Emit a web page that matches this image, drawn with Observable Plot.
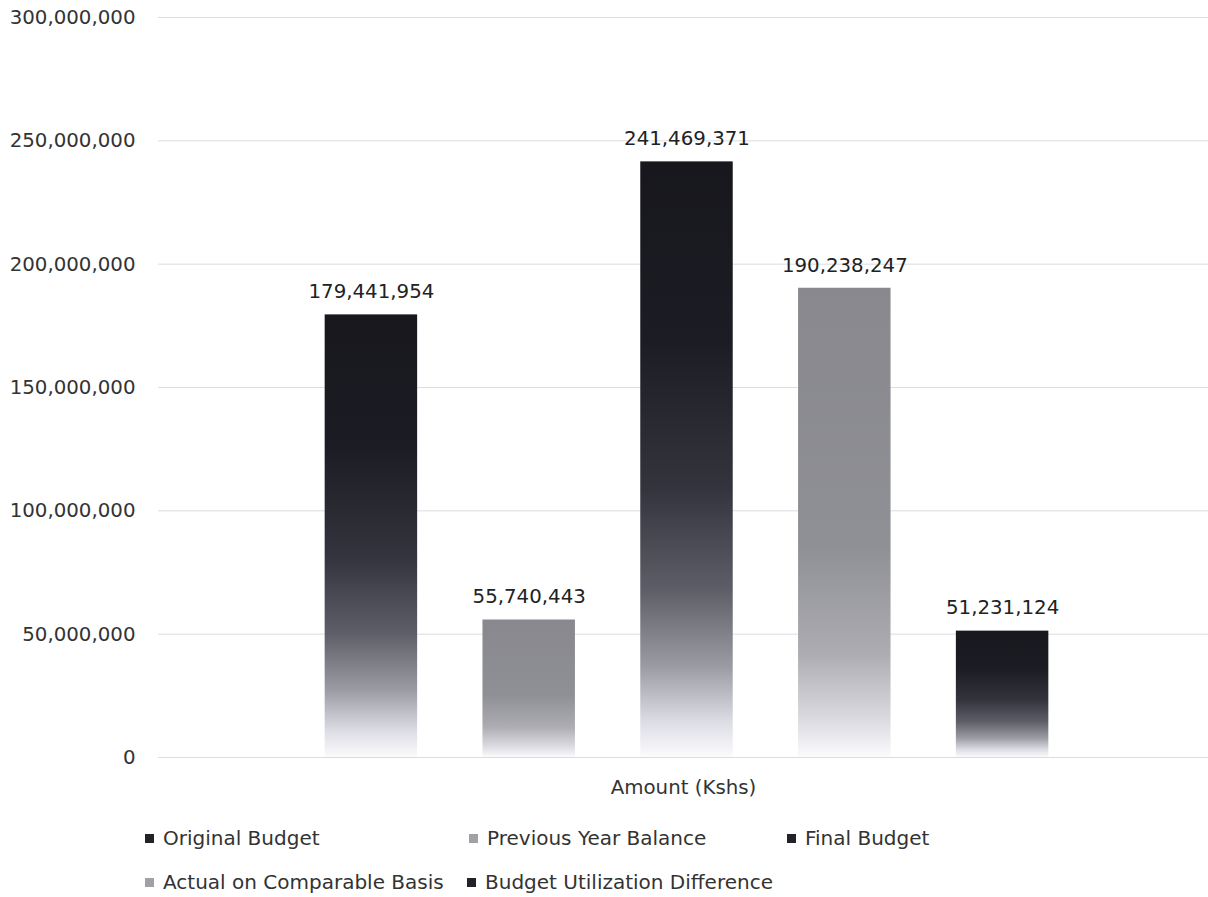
<!DOCTYPE html>
<html>
<head>
<meta charset="utf-8">
<script src="https://cdn.jsdelivr.net/npm/d3@7"></script>
<script src="https://cdn.jsdelivr.net/npm/@observablehq/plot@0.6"></script>
<style>
  body { margin: 0; background: #fff; font-family: "DejaVu Sans", sans-serif; }
  #wrap { position: relative; width: 1208px; height: 897px; }
  .leg { position: absolute; font-size: 20px; color: #333; white-space: nowrap; line-height: 24px; }
  .leg span.sw { display: inline-block; width: 9px; height: 9px; margin-right: 9px; vertical-align: 2px; }
</style>
</head>
<body>
<div id="wrap"></div>
<script>
const series = ["Original Budget", "Previous Year Balance", "Final Budget", "Actual on Comparable Basis", "Budget Utilization Difference"];
const values = [179441954, 55740443, 241469371, 190238247, 51231124];
const tones = ["dark", "gray", "dark", "gray", "dark"];
const yTicks = [0, 50000000, 100000000, 150000000, 200000000, 250000000, 300000000];
const xLabel = "Amount (Kshs)";

const data = series.map((s, i) => ({series: s, value: values[i], tone: tones[i]}));
const fmt = d3.format(",");

const chart = Plot.plot({
  width: 1208,
  height: 800,
  marginLeft: 158,
  marginRight: 0,
  marginTop: 17,
  marginBottom: 43,
  style: {fontFamily: "DejaVu Sans, sans-serif", fontSize: "19.8px", color: "#333", background: "transparent"},
  x: {domain: series, range: [292, 1081], paddingInner: 0.414, paddingOuter: 0.207, round: false, axis: null},
  y: {domain: [0, 300000000], ticks: yTicks, tickFormat: fmt, tickSize: 0, tickPadding: 23, label: null},
  color: {domain: ["dark", "gray"], range: ["url(#gDark)", "url(#gGray)"]},
  marks: [
    Plot.ruleY(yTicks, {stroke: "#dcdce2", strokeWidth: 1}),
    Plot.barY(data, {x: "series", y: "value", fill: "tone"}),
    Plot.text(data, {x: "series", y: "value", text: d => fmt(d.value), dy: -23, fill: "#222", fontSize: 19.8}),
    Plot.text([xLabel], {frameAnchor: "bottom", dy: 36, fill: "#333", fontSize: 19.8})
  ]
});

const svg = d3.select(chart);
const defs = svg.insert("defs", ":first-child");
const gd = defs.append("linearGradient").attr("id", "gDark").attr("x1", 0).attr("y1", 0).attr("x2", 0).attr("y2", 1);
[[0, "#17171d"], [0.3, "#1c1c24"], [0.55, "#34343e"], [0.72, "#5e5e68"], [0.85, "#9c9ca4"], [0.94, "#dcdce4"], [1, "#fbfbfd"]]
  .forEach(([o, c]) => gd.append("stop").attr("offset", o).attr("stop-color", c));
const gg = defs.append("linearGradient").attr("id", "gGray").attr("x1", 0).attr("y1", 0).attr("x2", 0).attr("y2", 1);
[[0, "#88888e"], [0.55, "#8f8f96"], [0.78, "#acacb2"], [0.92, "#dadae0"], [1, "#fbfbfd"]]
  .forEach(([o, c]) => gg.append("stop").attr("offset", o).attr("stop-color", c));

const wrap = document.getElementById("wrap");
wrap.appendChild(chart);

const legPos = [[145, 826], [469, 826], [787, 826], [145, 870], [467, 870]];
series.forEach((s, i) => {
  const d = document.createElement("div");
  d.className = "leg";
  d.style.left = legPos[i][0] + "px";
  d.style.top = legPos[i][1] + "px";
  const sw = document.createElement("span");
  sw.className = "sw";
  sw.style.background = tones[i] === "dark" ? "#222228" : "#a0a0a6";
  d.appendChild(sw);
  d.appendChild(document.createTextNode(s));
  wrap.appendChild(d);
});
</script>
</body>
</html>
